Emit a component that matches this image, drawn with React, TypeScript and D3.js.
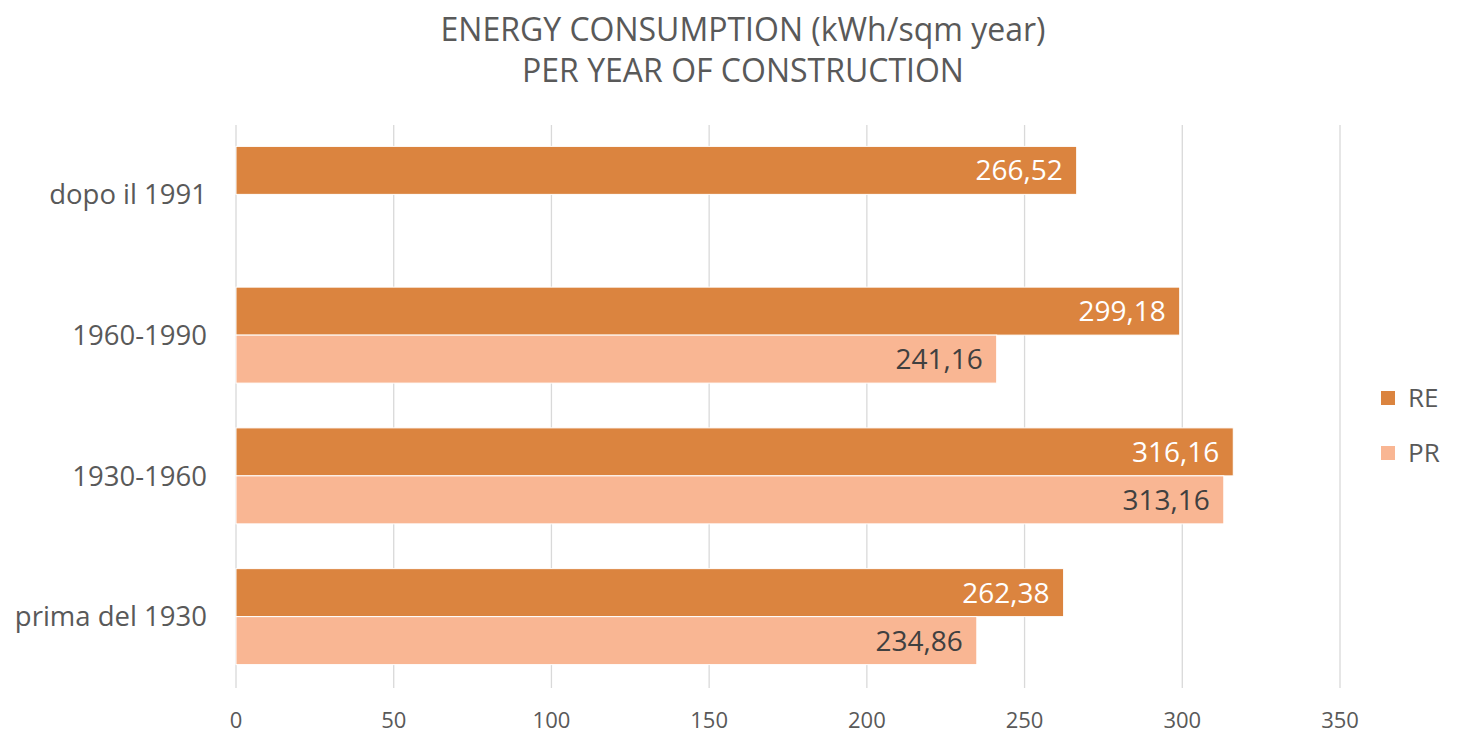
import React from "react";
import * as d3 from "d3";

const categories = ["dopo il 1991", "1960-1990", "1930-1960", "prima del 1930"];
const seriesNames = ["RE", "PR"];
const reValues: (number | null)[] = [266.52, 299.18, 316.16, 262.38];
const prValues: (number | null)[] = [null, 241.16, 313.16, 234.86];
const xTicks = [0, 50, 100, 150, 200, 250, 300, 350];
const titleLines = ["ENERGY CONSUMPTION (kWh/sqm year)", "PER YEAR OF CONSTRUCTION"];

const colors: Record<string, string> = { RE: "#DB843F", PR: "#F9B693" };
const labelColors: Record<string, string> = { RE: "#FFFFFF", PR: "#404040" };

const W = 1471;
const H = 733;
const FONT = "'Open Sans', sans-serif";

export default function App() {
  const x = d3.scaleLinear().domain([0, 350]).range([236, 1340]);
  const y = d3
    .scaleBand<string>()
    .domain(categories)
    .range([124, 687])
    .paddingInner(0.318)
    .paddingOuter(0.159);
  const sub = d3.scaleBand<string>().domain(seriesNames).range([0, y.bandwidth()]);
  const fmt = (v: number) => v.toFixed(2).replace(".", ",");
  const data: Record<string, (number | null)[]> = { RE: reValues, PR: prValues };

  return (
    <div style={{ position: "fixed", left: 0, top: 0 }}>
      <svg width={W} height={H} style={{ display: "block", background: "#fff" }}>
        {titleLines.map((t, i) => (
          <text
            key={t}
            x={743}
            y={41 + i * 41}
            textAnchor="middle"
            fontFamily={FONT}
            fontSize={32}
            fill="#595959"
          >
            {t}
          </text>
        ))}
        {xTicks.map((t) => (
          <g key={t}>
            <line x1={x(t)} x2={x(t)} y1={125} y2={688} stroke="#D9D9D9" strokeWidth={1.3} />
            <text
              x={x(t)}
              y={720}
              dy="0.35em"
              textAnchor="middle"
              fontFamily={FONT}
              fontSize={22}
              fill="#595959"
            >
              {t}
            </text>
          </g>
        ))}
        {categories.map((c, ci) => (
          <g key={c}>
            <text
              x={207}
              y={(y(c) as number) + y.bandwidth() / 2}
              dy="0.35em"
              textAnchor="end"
              fontFamily={FONT}
              fontSize={27.5}
              fill="#595959"
            >
              {c}
            </text>
            {seriesNames.map((s) => {
              const v = data[s][ci];
              if (v == null) return null;
              const by = (y(c) as number) + (sub(s) as number);
              const bh = sub.bandwidth();
              return (
                <g key={s}>
                  <rect
                    x={x(0)}
                    y={by}
                    width={x(v) - x(0)}
                    height={bh}
                    fill={colors[s]}
                    stroke="#fff"
                    strokeWidth={1}
                  />
                  <text
                    x={x(v) - 14}
                    y={by + bh / 2}
                    dy="0.36em"
                    textAnchor="end"
                    fontFamily={FONT}
                    fontSize={28}
                    fill={labelColors[s]}
                  >
                    {fmt(v)}
                  </text>
                </g>
              );
            })}
          </g>
        ))}
        {seriesNames.map((s, i) => (
          <g key={s} transform={`translate(1381, ${391 + i * 55})`}>
            <rect width={14} height={14} fill={colors[s]} />
            <text x={27} y={7} dy="0.36em" fontFamily={FONT} fontSize={26} fill="#595959">
              {s}
            </text>
          </g>
        ))}
      </svg>
    </div>
  );
}
